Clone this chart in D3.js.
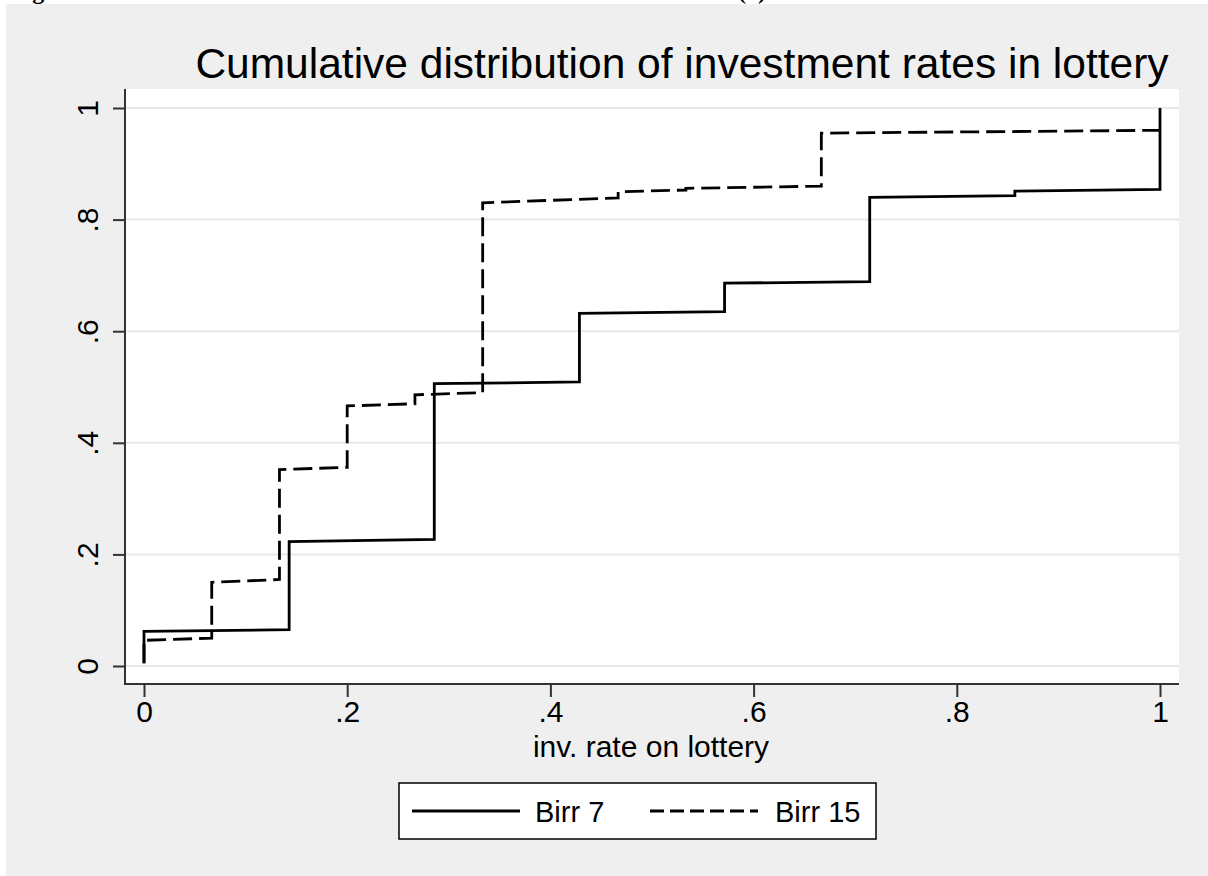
<!DOCTYPE html>
<html>
<head>
<meta charset="utf-8">
<script src="https://cdnjs.cloudflare.com/ajax/libs/d3/7.8.5/d3.min.js"></script>
<style>
  body { margin: 0; background: #fff; }
  svg { display: block; font-family: "Liberation Sans", Arial, sans-serif; }
</style>
</head>
<body>
<div id="chart"></div>
<script>
// rate values where the data sit, with first and last cumulative value at each
var birr7Rates = [0, 1/7, 2/7, 3/7, 4/7, 5/7, 6/7, 1];
var birr7Lo    = [0.005, 0.065, 0.227, 0.509, 0.635, 0.689, 0.843, 0.854];
var birr7Hi    = [0.062, 0.223, 0.506, 0.632, 0.686, 0.840, 0.851, 1.0];

var birr15Rates = [0, 1/15, 2/15, 3/15, 4/15, 5/15, 7/15, 8/15, 10/15, 1];
var birr15Lo    = [0.005, 0.050, 0.155, 0.356, 0.470, 0.490, 0.839, 0.853, 0.860, 0.960];
var birr15Hi    = [0.046, 0.150, 0.352, 0.466, 0.486, 0.830, 0.850, 0.856, 0.955, 0.960];

var yTicks = [0, 0.2, 0.4, 0.6, 0.8, 1];
var xTicks = [0, 0.2, 0.4, 0.6, 0.8, 1];
var legendLabels = ["Birr 7", "Birr 15"];

function toPoints(rates, lo, hi) {
  var pts = [];
  rates.forEach(function(r, i) {
    pts.push([r, lo[i]]);
    pts.push([r, hi[i]]);
  });
  return pts;
}

function fmt(d) {
  if (d === 0) return "0";
  if (d === 1) return "1";
  return d3.format(".1f")(d).replace(/^0/, "");
}

var W = 1208, H = 876;
var svg = d3.select("#chart").append("svg")
  .attr("width", W).attr("height", H);

// clipped figure caption above the graph
svg.append("text").attr("x", 11).attr("y", -1)
  .style("font-family", "'Liberation Serif', serif").style("font-weight", "bold")
  .style("font-size", "24px").text("Figure");
svg.append("text").attr("x", 738).attr("y", -1)
  .style("font-family", "'Liberation Serif', serif").style("font-weight", "bold")
  .style("font-size", "24px").text("(a)");

svg.append("rect").attr("x", 6).attr("y", 4)
  .attr("width", W - 6).attr("height", H - 4).attr("fill", "#efefef");

var plotL = 125, plotR = 1179, plotT = 89, plotB = 684;
svg.append("rect").attr("x", plotL).attr("y", plotT)
  .attr("width", plotR - plotL).attr("height", plotB - plotT).attr("fill", "#fff");

var x = d3.scaleLinear().domain([0, 1]).range([144, 1160]);
var y = d3.scaleLinear().domain([0, 1]).range([666, 108]);

// grid
svg.append("g").selectAll("line").data(yTicks).join("line")
  .attr("x1", plotL).attr("x2", plotR)
  .attr("y1", function(d) { return y(d); }).attr("y2", function(d) { return y(d); })
  .attr("stroke", "#e8e8e8").attr("stroke-width", 2);

// axes
var yAxis = svg.append("g").attr("transform", "translate(" + plotL + ",0)")
  .call(d3.axisLeft(y).tickValues(yTicks).tickFormat(fmt).tickSize(12).tickPadding(0));
yAxis.select(".domain").remove();
yAxis.selectAll(".tick line").attr("stroke", "#333").attr("stroke-width", 2);
yAxis.selectAll(".tick text")
  .attr("x", null).attr("dy", null)
  .attr("text-anchor", "middle")
  .attr("transform", "translate(-27,0) rotate(-90)")
  .style("font-size", "30px").attr("fill", "#000");

var xAxis = svg.append("g").attr("transform", "translate(0," + plotB + ")")
  .call(d3.axisBottom(x).tickValues(xTicks).tickFormat(fmt).tickSize(13).tickPadding(0));
xAxis.select(".domain").remove();
xAxis.selectAll(".tick line").attr("stroke", "#333").attr("stroke-width", 2);
xAxis.selectAll(".tick text").attr("y", 38).attr("dy", null)
  .style("font-size", "30px").attr("fill", "#000");

svg.append("line").attr("x1", plotL).attr("x2", plotL).attr("y1", plotT).attr("y2", plotB + 1)
  .attr("stroke", "#333").attr("stroke-width", 2);
svg.append("line").attr("x1", plotL).attr("x2", plotR).attr("y1", plotB).attr("y2", plotB)
  .attr("stroke", "#333").attr("stroke-width", 2);

// lines
var line = d3.line()
  .x(function(d) { return x(d[0]); })
  .y(function(d) { return y(d[1]); });

svg.append("path").datum(toPoints(birr15Rates, birr15Lo, birr15Hi))
  .attr("d", line).attr("fill", "none").attr("stroke", "#000")
  .attr("stroke-width", 2.8).attr("stroke-dasharray", "19,7");

svg.append("path").datum(toPoints(birr7Rates, birr7Lo, birr7Hi))
  .attr("d", line).attr("fill", "none").attr("stroke", "#000")
  .attr("stroke-width", 2.8);

// titles
svg.append("text").attr("x", 682).attr("y", 78).attr("text-anchor", "middle")
  .style("font-size", "42.5px").text("Cumulative distribution of investment rates in lottery");
svg.append("text").attr("x", 651).attr("y", 757).attr("text-anchor", "middle")
  .style("font-size", "30px").text("inv. rate on lottery");

// legend
var lg = svg.append("g");
lg.append("rect").attr("x", 399).attr("y", 783).attr("width", 477).attr("height", 56)
  .attr("fill", "#fff").attr("stroke", "#000").attr("stroke-width", 1.5);
lg.append("line").attr("x1", 412).attr("x2", 520).attr("y1", 811).attr("y2", 811)
  .attr("stroke", "#000").attr("stroke-width", 2.8);
lg.append("line").attr("x1", 650).attr("x2", 758).attr("y1", 811).attr("y2", 811)
  .attr("stroke", "#000").attr("stroke-width", 2.8).attr("stroke-dasharray", "14,6");
lg.append("text").attr("x", 535).attr("y", 822).style("font-size", "29px").text(legendLabels[0]);
lg.append("text").attr("x", 775).attr("y", 822).style("font-size", "29px").text(legendLabels[1]);
</script>
</body>
</html>
